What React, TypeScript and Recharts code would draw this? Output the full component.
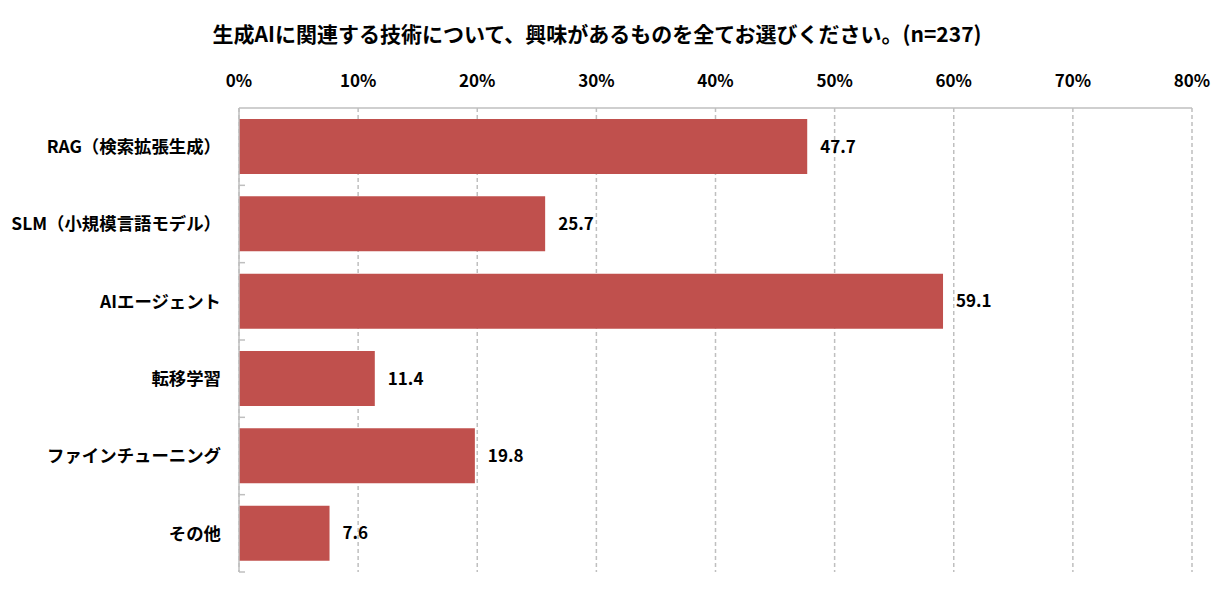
import React from "react";
import { BarChart, Bar, XAxis, YAxis, CartesianGrid, LabelList } from "recharts";

const categories = [
  "RAG（検索拡張生成）",
  "SLM（小規模言語モデル）",
  "AIエージェント",
  "転移学習",
  "ファインチューニング",
  "その他",
];
const values = [47.7, 25.7, 59.1, 11.4, 19.8, 7.6];
const xTicks = [0, 10, 20, 30, 40, 50, 60, 70, 80];
const title = "生成AIに関連する技術について、興味があるものを全てお選びください。(n=237)";

const data = categories.map((name, i) => ({ name, value: values[i] }));

const FONT = '"Noto Sans CJK JP", "Noto Sans", sans-serif';
const GRAY = "#BFBFBF";
const Y_TICK_GAP = 18;

function CategoryTick(props: any) {
  const { x, y, payload, height, visibleTicksCount } = props;
  const half = height && visibleTicksCount ? height / visibleTicksCount / 2 : 0;
  const axisX = x + Y_TICK_GAP;
  return (
    <g>
      <text
        x={x}
        y={y}
        dy="0.36em"
        textAnchor="end"
        fill="#000"
        fontSize={17.4}
        fontWeight={700}
        fontFamily={FONT}
      >
        {payload.value}
      </text>
      <line x1={axisX} x2={axisX + 6} y1={y + half} y2={y + half} stroke={GRAY} strokeWidth={1.5} />
    </g>
  );
}

export default function App() {
  return (
    <div style={{ position: "absolute", left: 0, top: 0, width: 1229, height: 589, fontFamily: FONT, background: "#fff" }}>
      <div
        style={{
          position: "absolute",
          left: 0,
          width: 1194,
          top: 18,
          textAlign: "center",
          fontSize: 21,
          fontWeight: 700,
          color: "#000",
          lineHeight: "30px",
          whiteSpace: "nowrap",
        }}
      >
        {title}
      </div>
      <BarChart
        width={1229}
        height={589}
        data={data}
        layout="vertical"
        margin={{ top: 60, right: 37, bottom: 17, left: 0 }}
        barCategoryGap={0}
      >
        <CartesianGrid horizontal={false} vertical stroke={GRAY} strokeWidth={1.5} strokeDasharray="4 3" />
        <XAxis
          type="number"
          orientation="top"
          domain={[0, 80]}
          ticks={xTicks}
          tickFormatter={(v) => `${v}%`}
          height={48}
          tickLine={false}
          tickSize={0}
          tickMargin={21}
          axisLine={{ stroke: GRAY, strokeWidth: 1.5 }}
          tick={{ fill: "#000", fontSize: 17, fontWeight: 700, fontFamily: FONT }}
          interval={0}
        />
        <YAxis
          type="category"
          dataKey="name"
          width={239}
          tickLine={false}
          tickSize={0}
          tickMargin={Y_TICK_GAP}
          axisLine={{ stroke: GRAY, strokeWidth: 1.5 }}
          tick={<CategoryTick />}
          interval={0}
        />
        <Bar dataKey="value" fill="#C0504D" barSize={55} isAnimationActive={false}>
          <LabelList
            dataKey="value"
            position="right"
            offset={13}
            fill="#000"
            fontSize={17}
            fontWeight={700}
            fontFamily={FONT}
            formatter={(v: number) => v.toFixed(1)}
          />
        </Bar>
      </BarChart>
    </div>
  );
}
